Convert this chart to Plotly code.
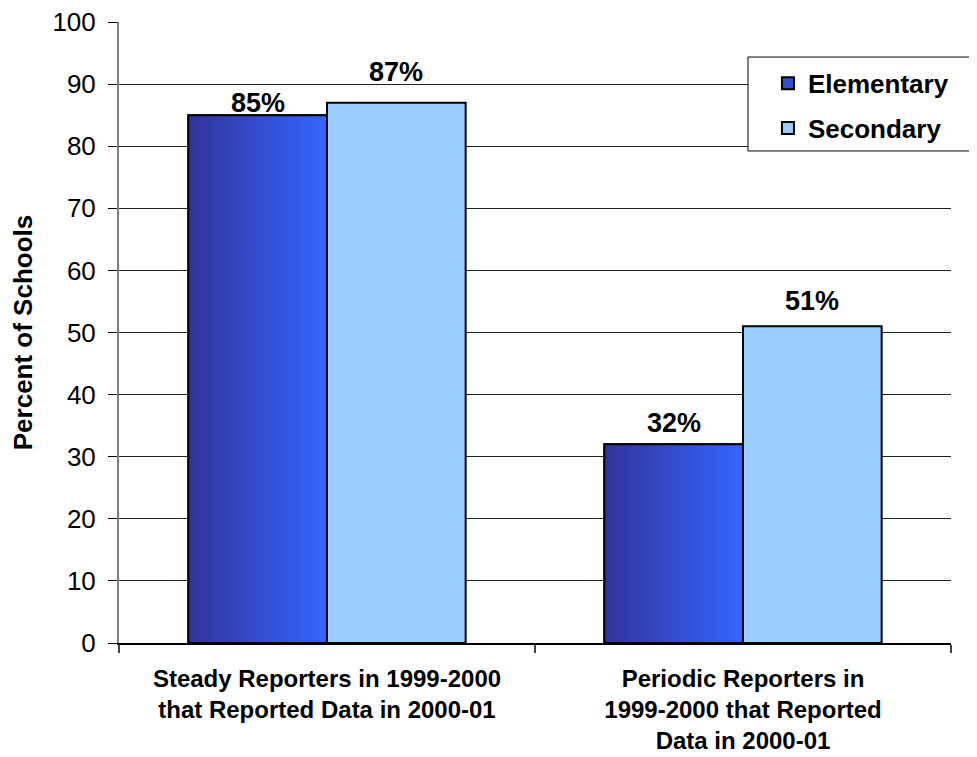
import plotly.graph_objects as go

# ---- data ----
categories = ["Steady Reporters in 1999-2000<br>that Reported Data in 2000-01",
              "Periodic Reporters in<br>1999-2000 that Reported<br>Data in 2000-01"]
series_names = ["Elementary", "Secondary"]
elementary = [85, 32]
secondary = [87, 51]
y_ticks = [0, 10, 20, 30, 40, 50, 60, 70, 80, 90, 100]

# ---- style ----
FONT = "Arial, Liberation Sans, sans-serif"
W = 0.3333
ELEM_GRAD = [[0, "#333399"], [1, "#3366FF"]]
ELEM_MID = "#3350CC"
SEC_COLOR = "#99CCFF"
label_shift_elem = [12, 21]
label_shift_sec = [31, 25]

xpos = list(range(len(categories)))

fig = go.Figure()

fig.add_trace(go.Bar(
    x=xpos, y=elementary, name=series_names[0], offset=-W, width=W,
    marker=dict(color=ELEM_MID, line=dict(color="black", width=2)),
    legendgroup="a", hoverinfo="skip"))
fig.add_trace(go.Bar(
    x=xpos, y=secondary, name=series_names[1], offset=0, width=W,
    marker=dict(color=SEC_COLOR, line=dict(color="black", width=2)),
    legendgroup="b", hoverinfo="skip"))

# gradient overlay for elementary bars
for i, v in zip(xpos, elementary):
    fig.add_trace(go.Scatter(
        x=[i - W, i - W, i, i, i - W], y=[0, v, v, 0, 0],
        mode="lines", fill="toself",
        fillgradient=dict(type="horizontal", colorscale=ELEM_GRAD),
        line=dict(color="black", width=2),
        showlegend=False, hoverinfo="skip"))

# value labels
for i, v, s in zip(xpos, elementary, label_shift_elem):
    fig.add_annotation(x=i - W / 2, y=v, text=f"<b>{v}%</b>", showarrow=False,
                       yanchor="middle", yshift=s,
                       font=dict(family=FONT, size=27, color="black"))
for i, v, s in zip(xpos, secondary, label_shift_sec):
    fig.add_annotation(x=i + W / 2, y=v, text=f"<b>{v}%</b>", showarrow=False,
                       yanchor="middle", yshift=s,
                       font=dict(family=FONT, size=27, color="black"))

# legend box
fig.add_shape(type="rect", xref="paper", yref="paper",
              x0=0.756, x1=1.06, y0=0.7923, y1=0.9436,
              line=dict(color="black", width=1), fillcolor="white", layer="above")

fig.update_layout(
    width=969, height=749,
    margin=dict(l=111, r=26, t=14, b=114, autoexpand=False),
    paper_bgcolor="white", plot_bgcolor="white",
    font=dict(family=FONT, color="black"),
    showlegend=True,
    legend=dict(x=0.780, y=0.939, xanchor="left", yanchor="top",
                bgcolor="rgba(0,0,0,0)", borderwidth=0,
                font=dict(family=FONT, size=26, color="black", weight="bold"),
                traceorder="grouped", tracegroupgap=8),
    xaxis=dict(range=[-0.5, 1.5], tickvals=xpos,
               ticktext=[f"<b>{c}</b>" for c in categories],
               tickfont=dict(family=FONT, size=24, color="black"),
               ticks="outside", ticklen=8, tickcolor="rgba(0,0,0,0)",
               ticklabelstandoff=5, automargin=False,
               ticklabeloverflow="allow",
               minor=dict(tick0=-0.5, dtick=1, ticks="outside", ticklen=8,
                          tickcolor="#444444", tickwidth=2, showgrid=False),
               showline=True, linecolor="black", linewidth=2,
               showgrid=False, zeroline=False, fixedrange=True),
    yaxis=dict(range=[0, 100], tickvals=y_ticks, automargin=False,
               tickfont=dict(family=FONT, size=26, color="black"),
               ticks="outside", ticklen=9, tickcolor="black", tickwidth=1,
               ticklabelstandoff=7, ticklabeloverflow="allow",
               showline=True, linecolor="#808080", linewidth=2,
               showgrid=True, gridcolor="#222222", gridwidth=1,
               zeroline=False,
               title=dict(text="<b>Percent of Schools</b>", standoff=14,
                          font=dict(family=FONT, size=26, color="black"))),
)

fig.write_html("out.html")
